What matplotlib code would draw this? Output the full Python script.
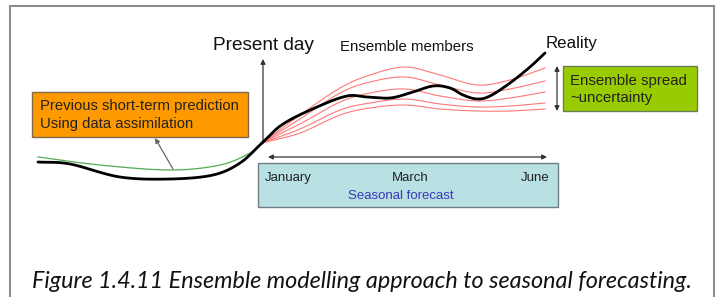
import numpy as np
import matplotlib
matplotlib.use("Agg")
import matplotlib.pyplot as plt
from matplotlib.patches import Rectangle, FancyArrowPatch

# ---- data (schematic, in picture units: x = time axis, y = state, screen-down) ----
past_x = [38, 70, 120, 170, 213, 240, 262]
reality_past_y = [162, 164, 177, 179, 175, 163, 143]
assim_x = [38, 100, 170, 220, 250, 262]
assim_y = [157, 165, 170, 165, 153, 143]

fut_x = [262, 283, 317, 347, 367, 390, 410, 433, 450, 463, 477, 490, 510, 530, 545]
reality_fut_y = [143, 124, 107, 96, 97, 98, 93, 86, 88, 95, 99, 96, 83, 67, 53]

ens_x = [262, 300, 340, 370, 405, 440, 477, 510, 545]
ens_members = [
    [143, 115, 88, 75, 67, 75, 85, 80, 68],
    [143, 119, 93, 82, 77, 85, 93, 89, 81],
    [143, 124, 102, 93, 89, 96, 101, 98, 92],
    [143, 129, 110, 103, 99, 104, 107, 106, 103],
    [143, 133, 115, 108, 105, 109, 111, 111, 109],
]

months = ["January", "March", "June"]
month_x = [265, 410, 550]


def smooth(xs, ys, n=20):
    """Catmull-Rom rendering of a polyline through the given points."""
    p = np.column_stack([xs, ys]).astype(float)
    p = np.vstack([p[0] - (p[1] - p[0]), p, p[-1] + (p[-1] - p[-2])])
    out = []
    t = np.linspace(0, 1, n, endpoint=False)[:, None]
    for i in range(1, len(p) - 2):
        p0, p1, p2, p3 = p[i - 1], p[i], p[i + 1], p[i + 2]
        seg = 0.5 * ((2 * p1) + (-p0 + p2) * t + (2 * p0 - 5 * p1 + 4 * p2 - p3) * t**2
                     + (-p0 + 3 * p1 - 3 * p2 + p3) * t**3)
        out.append(seg)
    out.append(p[-2][None, :])
    out = np.vstack(out)
    return out[:, 0], out[:, 1]


W, H = 718, 297
fig = plt.figure(figsize=(W / 100, H / 100), dpi=100)
ax = fig.add_axes([0, 0, 1, 1])
ax.set_xlim(0, W)
ax.set_ylim(H, 0)
ax.axis("off")

SANS = ["Liberation Sans", "DejaVu Sans"]

# outer frame (open at bottom)
ax.plot([10, 10, 714, 714], [297, 6, 6, 297], color="#8c8c8c", lw=1.5, solid_joinstyle="miter")

# boxes
ax.add_patch(Rectangle((32, 92), 216, 45, facecolor="#FF9900", edgecolor="#7f6a4a", lw=1.0))
ax.add_patch(Rectangle((563, 66), 134, 45, facecolor="#99CC00", edgecolor="#6d7d55", lw=1.0))
ax.add_patch(Rectangle((258, 163), 300, 44, facecolor="#B9E0E3", edgecolor="#6f7f80", lw=1.0))

# curves
sx, sy = smooth(assim_x, assim_y)
ax.plot(sx, sy, color="#55AA55", lw=0.9)
for m in ens_members:
    sx, sy = smooth(ens_x, m)
    ax.plot(sx, sy, color="#FF7878", lw=0.8)
sx, sy = smooth(past_x, reality_past_y)
ax.plot(sx, sy, color="black", lw=2.0, solid_capstyle="round")
sx, sy = smooth(fut_x, reality_fut_y)
ax.plot(sx, sy, color="black", lw=2.0, solid_capstyle="round")

# arrows
def arrow(p0, p1, style="-|>"):
    ax.add_patch(FancyArrowPatch(p0, p1, arrowstyle=style, mutation_scale=7,
                                 color="#333333", lw=0.9, shrinkA=0, shrinkB=0))

arrow((263, 143), (263, 59))
arrow((268, 157), (547, 157), "<|-|>")
arrow((557, 111), (557, 66), "<|-|>")
ax.add_patch(FancyArrowPatch((173, 169), (155, 138), arrowstyle="-|>", mutation_scale=7,
                             color="#666666", lw=0.9, shrinkA=0, shrinkB=0))

# texts
ax.text(213, 50, "Present day", fontsize=13.7, family=SANS, color="#111111", va="baseline")
ax.text(340, 51, "Ensemble members", fontsize=10.8, family=SANS, color="#111111", va="baseline")
ax.text(546, 48, "Reality", fontsize=12.2, family=SANS, color="#111111", va="baseline")
ax.text(40, 110, "Previous short-term prediction", fontsize=10.7, family=SANS,
        color="#222222", va="baseline")
ax.text(40, 128, "Using data assimilation", fontsize=10.7, family=SANS,
        color="#222222", va="baseline")
ax.text(570, 85, "Ensemble spread", fontsize=10.8, family=SANS, color="#222222", va="baseline")
ax.text(570, 102, "~uncertainty", fontsize=10.8, family=SANS, color="#222222", va="baseline")
for lbl, x in zip(months, month_x):
    ha = {"January": "left", "March": "center", "June": "right"}[lbl]
    ax.text(x, 181, lbl, fontsize=9.5, family=SANS, color="#222222", ha=ha, va="baseline")
ax.text(401, 199, "Seasonal forecast", fontsize=9.5, family=SANS, color="#3838B8",
        ha="center", va="baseline")

ax.text(32, 288, "Figure 1.4.11 Ensemble modelling approach to seasonal forecasting.",
        fontsize=16.8, family=["Lato", "Open Sans", "DejaVu Sans"], style="italic",
        color="#111111", va="baseline")

fig.savefig("out.png", dpi=100)
